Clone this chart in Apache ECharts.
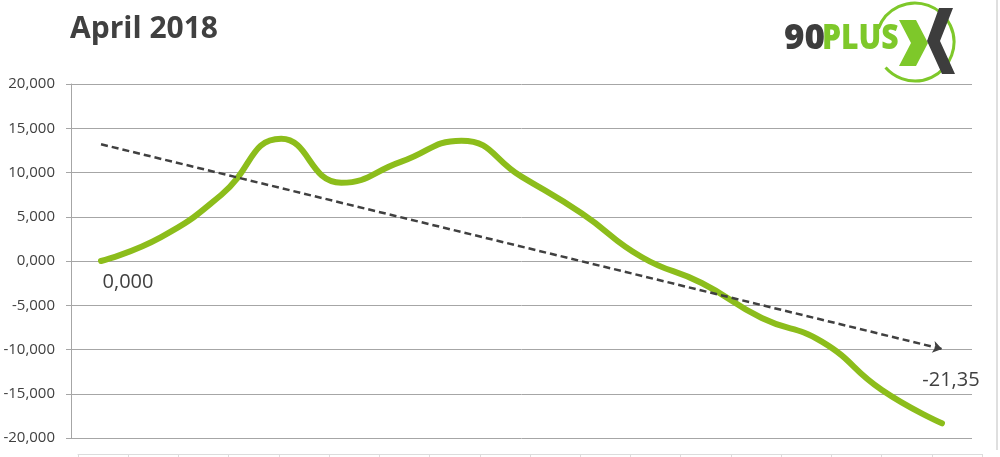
<!DOCTYPE html>
<html><head><meta charset="utf-8">
<script src="https://cdn.jsdelivr.net/npm/echarts@6/dist/echarts.min.js"></script>
<style>html,body{margin:0;padding:0;background:#fff}#c{width:1000px;height:457px}</style>
</head><body><div id="c"></div>
<script>
const titleText = 'April 2018';
const categories = ['1','2','3','4','5','6','7','8','9','10','11','12','13','14','15'];
const values = [0, 2.7, 7.46, 13.8, 8.85, 11.22, 13.6, 9.53, 5.39, 0.45, -2.49, -6.44, -9.11, -14.58, -18.34];
const trendEnds = [13.19, -9.94];
const yTickLabels = ['-20,000','-15,000','-10,000','-5,000','0,000','5,000','10,000','15,000','20,000'];
const pointLabels = ['0,000', '-21,35'];
const stripCats = ['','','','','','','','','','','','','','','','','',''];

const TXT = '#404040';
const GRID = '#a6a6a6';
const GREEN = '#8cbd1b';
const FONT = 'Open Sans';

const chart = echarts.init(document.getElementById('c'), null, {renderer: 'canvas'});
const last = values.length - 1;
chart.setOption({
  animation: false,
  backgroundColor: '#fff',
  title: {
    text: titleText, left: 70, top: 14, padding: 0,
    textStyle: {color: TXT, fontFamily: FONT, fontWeight: 'bold', fontSize: 30}
  },
  grid: [
    {left: 71, right: 28, top: 84, bottom: 19, containLabel: false, outerBoundsMode: 'none'},
    {left: 78, right: 18, top: 453, height: 1, containLabel: false, outerBoundsMode: 'none'}
  ],
  xAxis: [
    {type: 'category', data: categories, boundaryGap: true, gridIndex: 0,
     axisLine: {show: false}, axisTick: {show: false}, axisLabel: {show: false}, splitLine: {show: false}},
    {type: 'category', data: stripCats, boundaryGap: true, gridIndex: 1,
     axisLine: {show: true, lineStyle: {color: '#dcdcdc'}},
     axisTick: {show: true, length: 3, lineStyle: {color: '#dcdcdc'}},
     axisLabel: {show: false}}
  ],
  yAxis: [
    {type: 'value', min: -20, max: 20, interval: 5, gridIndex: 0,
     axisLine: {show: true, lineStyle: {color: GRID, width: 1}},
     axisTick: {show: true, length: 5, lineStyle: {color: GRID}},
     splitLine: {show: true, lineStyle: {color: GRID, width: 1}},
     axisLabel: {
       margin: 16, color: TXT, fontFamily: FONT, fontSize: 15,
       formatter: function (v) { return yTickLabels[Math.round((v + 20) / 5)]; }
     }},
    {type: 'value', gridIndex: 1, show: false}
  ],
  series: [{
    type: 'line',
    xAxisIndex: 0, yAxisIndex: 0,
    data: values,
    smooth: 0.5,
    showSymbol: false,
    symbol: 'none',
    lineStyle: {color: GREEN, width: 6, cap: 'round', join: 'round'},
    itemStyle: {color: GREEN},
    silent: true,
    markLine: {
      silent: true,
      symbol: ['none', 'arrow'],
      symbolSize: 9,
      label: {show: false},
      lineStyle: {color: TXT, width: 2.5, type: [7, 4]},
      emphasis: {disabled: true},
      data: [[
        {coord: [categories[0], trendEnds[0]]},
        {coord: [categories[last], trendEnds[1]]}
      ]]
    },
    markPoint: {
      silent: true,
      symbol: 'circle',
      symbolSize: 0,
      itemStyle: {color: 'transparent'},
      data: [
        {coord: [categories[0], values[0]],
         label: {show: true, formatter: pointLabels[0], position: 'bottom', distance: 11, offset: [27, 0],
                 color: TXT, fontFamily: FONT, fontSize: 20}},
        {coord: [categories[last], values[last]],
         label: {show: true, formatter: pointLabels[1], position: 'top', distance: 33, offset: [9, 0],
                 color: TXT, fontFamily: FONT, fontSize: 20}}
      ]
    }
  }],
  graphic: [
    {type: 'line', shape: {x1: 997, y1: 0, x2: 997, y2: 450}, style: {stroke: '#bfbfbf', lineWidth: 1}, silent: true},
    {type: 'arc', shape: {cx: 915, cy: 42, r: 39, startAngle: 3.49, endAngle: 8.71, clockwise: true},
     style: {stroke: '#7ec82a', lineWidth: 3, fill: null}, silent: true},
    {type: 'text', left: 784, top: 22, silent: true,
     style: {text: '90', fill: '#3d3d3d', font: '800 35px "Open Sans"'}},
    {type: 'text', x: 822, y: 22, scaleX: 0.86, silent: true,
     style: {text: 'PLUS', fill: '#7ec82a', font: '800 35px "Open Sans"'}},
    {type: 'polygon', silent: true,
     shape: {points: [[899, 20], [916, 20], [928, 43], [916, 66], [899, 66], [911, 43]]},
     style: {fill: '#7ec82a'}},
    {type: 'polygon', silent: true,
     shape: {points: [[939, 8], [953, 8], [940, 41], [955, 74], [942, 74], [927, 41]]},
     style: {fill: '#3d3d3d'}}
  ]
});
</script></body></html>
